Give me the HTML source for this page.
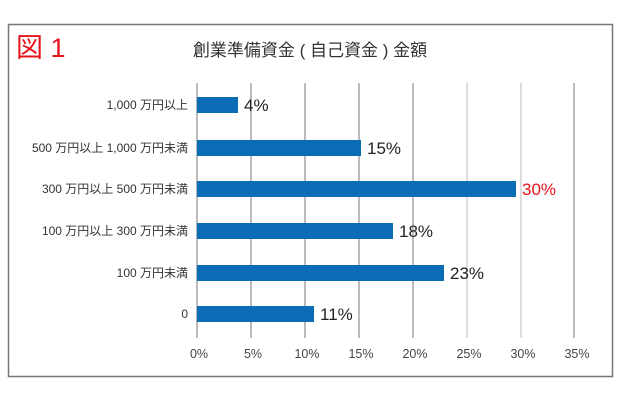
<!DOCTYPE html>
<html><head><meta charset="utf-8"><style>
body{margin:0;background:#fff;}
svg{display:block;font-family:"Liberation Sans","Noto Sans CJK JP",sans-serif;}
</style></head><body>
<svg width="620" height="400" viewBox="0 0 620 400">
<rect x="8.5" y="24.5" width="604" height="352" fill="#fff" stroke="#777" stroke-width="1.5"/>
<text x="16" y="57" font-size="27" fill="#e8141c">図 1</text>
<text x="310" y="56" font-size="17" fill="#333" text-anchor="middle">創業準備資金 ( 自己資金 ) 金額</text>
<g stroke="#555" stroke-width="0.8">
<line x1="197" y1="83" x2="197" y2="338"/>
<line x1="251" y1="83" x2="251" y2="338"/>
<line x1="305" y1="83" x2="305" y2="338"/>
<line x1="359" y1="83" x2="359" y2="338"/>
<line x1="413" y1="83" x2="413" y2="338"/>
<line x1="467" y1="83" x2="467" y2="338" stroke="#aaa"/>
<line x1="521" y1="83" x2="521" y2="338" stroke="#aaa"/>
<line x1="574" y1="83" x2="574" y2="338"/>
</g>
<g fill="#0a6db5">
<rect x="197" y="97" width="41" height="16"/>
<rect x="197" y="140" width="164" height="16"/>
<rect x="197" y="181" width="319" height="16"/>
<rect x="197" y="223" width="196" height="16"/>
<rect x="197" y="265" width="247" height="16"/>
<rect x="197" y="306" width="117" height="16"/>
</g>
<g font-size="17" fill="#222">
<text x="244" y="111">4%</text>
<text x="367" y="154">15%</text>
<text x="522" y="195" fill="#e8141c">30%</text>
<text x="399" y="237">18%</text>
<text x="450" y="279">23%</text>
<text x="320" y="320">11%</text>
</g>
<g font-size="12" fill="#333" text-anchor="end">
<text x="188" y="109">1,000 万円以上</text>
<text x="188" y="152">500 万円以上 1,000 万円未満</text>
<text x="188" y="193">300 万円以上 500 万円未満</text>
<text x="188" y="235">100 万円以上 300 万円未満</text>
<text x="188" y="277">100 万円未満</text>
<text x="188" y="318">0</text>
</g>
<g font-size="12.5" fill="#444" text-anchor="middle">
<text x="199" y="358">0%</text>
<text x="253" y="358">5%</text>
<text x="307" y="358">10%</text>
<text x="361" y="358">15%</text>
<text x="415" y="358">20%</text>
<text x="469" y="358">25%</text>
<text x="523" y="358">30%</text>
<text x="577" y="358">35%</text>
</g>
</svg>
</body></html>
